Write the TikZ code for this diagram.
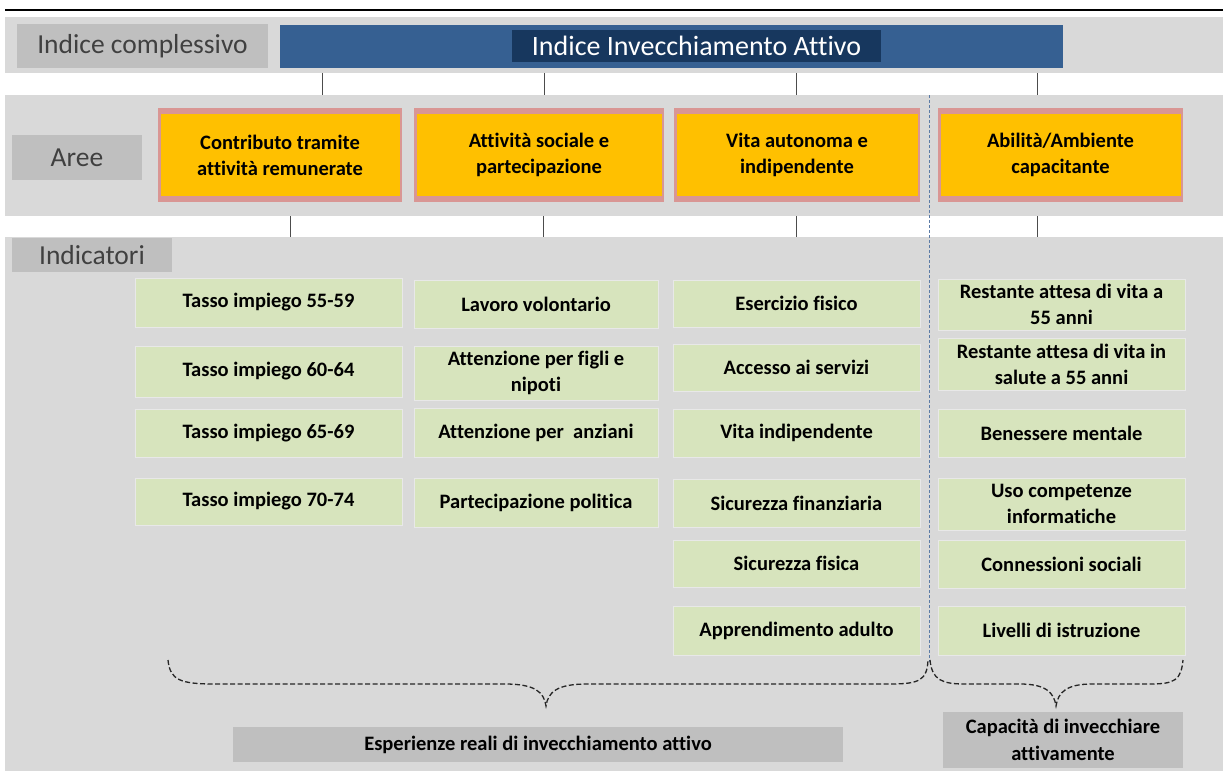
\documentclass[tikz,border=0pt]{standalone}
\usepackage{fontspec}
\setmainfont[Ligatures=NoCommon]{Carlito}
\definecolor{bandgray}{HTML}{D9D9D9}
\definecolor{labgray}{HTML}{BFBFBF}
\definecolor{txtgray}{HTML}{404040}
\definecolor{blueA}{HTML}{366092}
\definecolor{navy}{HTML}{17375E}
\definecolor{orangeA}{HTML}{FFC000}
\definecolor{pinkA}{HTML}{D99694}
\definecolor{greenA}{HTML}{D7E4BD}
\definecolor{dashblue}{HTML}{5B7BA6}
\tikzset{
  box/.style={inner sep=0pt, align=center, outer sep=0pt},
  labbox/.style={box, fill=labgray, text=txtgray, font=\fontsize{27.5}{30}\selectfont},
  gbox/.style={box, fill=greenA, draw=white!82!gray, line width=0.8pt, text=black, font=\bfseries\fontsize{20.5}{26}\selectfont},
  obox/.style={box, fill=pinkA, text=black, font=\bfseries\fontsize{20.5}{26}\selectfont,
    path picture={\fill[orangeA] ([xshift=2.5pt,yshift=-6pt]path picture bounding box.north west) rectangle ([xshift=-2.5pt,yshift=6pt]path picture bounding box.south east);}},
  bbox/.style={box, fill=labgray, text=black, font=\bfseries\fontsize{20.5}{27}\selectfont},
  tick/.style={draw=black!70, line width=0.9pt},
  brace/.style={draw=black!85, line width=1.3pt, dash pattern=on 5pt off 2.5pt},
}
% #1 style, #2 name, #3 x1, #4 y1, #5 x2, #6 y2, #7 text
\newcommand\rbox[7]{\node[#1, minimum width={#5-#3}, minimum height={#6-#4}] (#2) at ({(#3+#5)/2},{(#4+#6)/2}) {#7};}
\begin{document}
\begin{tikzpicture}[x=1pt,y=-1pt]
\useasboundingbox (0,0) rectangle (1223,774);
\fill[white] (0,0) rectangle (1223,774);
% top line
\draw[black, line width=2pt] (5,10) -- (1223,10);
% bands
\fill[bandgray] (5,17) rectangle (1223,73);
\fill[bandgray] (5,95) rectangle (1223,216);
\fill[bandgray] (5,237) rectangle (1223,771);
% band 1
\rbox{labbox}{lic}{17}{24}{268}{68}{Indice complessivo}
\rbox{box, fill=blueA}{iia}{280}{25}{1063}{68}{}
\rbox{box, fill=navy, text=white, font=\fontsize{28}{30}\selectfont}{iiat}{512}{30}{881}{62}{Indice Invecchiamento Attivo}
% ticks band 1 -> band 2
\foreach \x [count=\i] in {322,544,796,1037}{
  \coordinate (ta\i) at (\x,73); \coordinate (tb\i) at (\x,95);
  \draw[tick] (ta\i) -- (tb\i);}
% band 2
\rbox{labbox}{aree}{12}{135}{142}{180}{Aree}
\rbox{obox}{a1}{158}{108}{402}{202}{Contributo tramite\\attività remunerate}
\rbox{obox}{a2}{414}{108}{664}{202}{Attività sociale e\\partecipazione}
\rbox{obox}{a3}{674}{108}{920}{202}{Vita autonoma e\\indipendente}
\rbox{obox}{a4}{938}{108}{1183}{202}{Abilità/Ambiente\\capacitante}
% ticks band 2 -> band 3
\foreach \x [count=\i] in {290,543,796,1037}{
  \coordinate (tc\i) at (\x,216); \coordinate (td\i) at (\x,237);
  \draw[tick] (tc\i) -- (td\i);}
% band 3
\rbox{labbox}{ind}{12}{238}{172}{272}{Indicatori}
% column 1
\rbox{gbox}{c1r1}{135}{278}{402}{327}{Tasso impiego 55-59}
\rbox{gbox}{c1r2}{135}{346}{402}{397}{Tasso impiego 60-64}
\rbox{gbox}{c1r3}{135}{409}{402}{457}{Tasso impiego 65-69}
\rbox{gbox}{c1r4}{135}{478}{402}{525}{Tasso impiego 70-74}
% column 2
\rbox{gbox}{c2r1}{414}{280}{658}{328}{Lavoro volontario}
\rbox{gbox}{c2r2}{414}{346}{658}{400}{Attenzione per figli e\\nipoti}
\rbox{gbox}{c2r3}{414}{408}{658}{457}{Attenzione per\ \ anziani}
\rbox{gbox}{c2r4}{414}{478}{658}{527}{Partecipazione politica}
% column 3
\rbox{gbox}{c3r1}{673}{280}{920}{327}{Esercizio fisico}
\rbox{gbox}{c3r2}{673}{344}{920}{391}{Accesso ai servizi}
\rbox{gbox}{c3r3}{673}{409}{920}{457}{Vita indipendente}
\rbox{gbox}{c3r4}{673}{479}{920}{527}{Sicurezza finanziaria}
\rbox{gbox}{c3r5}{673}{540}{920}{587}{Sicurezza fisica}
\rbox{gbox}{c3r6}{673}{606}{920}{655}{Apprendimento adulto}
% column 4
\rbox{gbox}{c4r1}{938}{279}{1185}{330}{Restante attesa di vita a\\55 anni}
\rbox{gbox}{c4r2}{938}{338}{1185}{390}{Restante attesa di vita in\\salute a 55 anni}
\rbox{gbox}{c4r3}{938}{409}{1185}{457}{Benessere mentale}
\rbox{gbox}{c4r4}{938}{478}{1185}{530}{Uso competenze\\informatiche}
\rbox{gbox}{c4r5}{938}{540}{1185}{588}{Connessioni sociali}
\rbox{gbox}{c4r6}{938}{606}{1185}{655}{Livelli di istruzione}
% dashed separator
\coordinate (sepT) at (929,95);
\coordinate (sepB) at (929,662);
\draw[dashblue, line width=1pt, dash pattern=on 3pt off 2pt] (sepT) -- (sepB);
% braces
\coordinate (b1L) at (168,660); \coordinate (b1T) at (546,706); \coordinate (b1R) at (928,660);
\coordinate (b2L) at (930,660); \coordinate (b2T) at (1056,706); \coordinate (b2R) at (1183,660);
\draw[brace] (b1L) .. controls (170,680) and (180,684) .. (215,684)
  -- (505,684) .. controls (535,684) and (544,692) .. (b1T)
  .. controls (548,692) and (557,684) .. (587,684)
  -- (890,684) .. controls (920,684) and (927,680) .. (b1R);
\draw[brace] (b2L) .. controls (932,680) and (942,684) .. (965,684)
  -- (1020,684) .. controls (1045,684) and (1054,692) .. (b2T)
  .. controls (1058,692) and (1067,684) .. (1092,684)
  -- (1150,684) .. controls (1175,684) and (1181,680) .. (b2R);
% bottom labels
\rbox{bbox}{esp}{233}{727}{843}{762}{Esperienze reali di invecchiamento attivo}
\rbox{bbox}{cap}{943}{712}{1183}{768}{Capacità di invecchiare\\attivamente}
\end{tikzpicture}
\end{document}
